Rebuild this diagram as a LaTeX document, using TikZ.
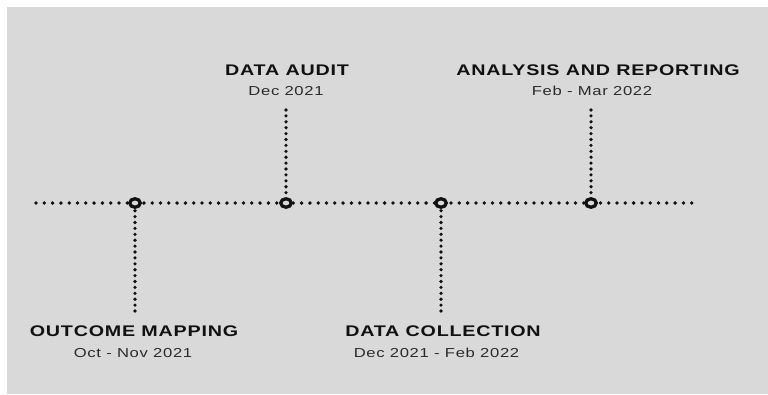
\documentclass[tikz,border=0pt]{standalone}
\usepackage{fontspec}
\usetikzlibrary{shapes.geometric}
\newfontfamily\tlfont[FakeStretch=1.28,LetterSpace=5]{Liberation Sans}
\definecolor{panel}{HTML}{D9D9D9}
\definecolor{ink}{HTML}{111111}
\definecolor{datecol}{HTML}{2B2B2B}
\tikzset{
  hdots/.style={draw=ink, line width=3.8pt, line cap=round, dash pattern=on 0pt off 8.3pt},
  vdots/.style={draw=ink, line width=3.6pt, line cap=round, dash pattern=on 0pt off 5.9pt},
  ring/.style={ellipse, draw=ink, fill=panel, line width=3.3pt, minimum width=10.5pt, minimum height=8.5pt, inner sep=0pt},
  phase/.style={anchor=base, inner sep=0pt, text=ink, font=\tlfont\bfseries\fontsize{15.4}{18}\selectfont},
  when/.style={anchor=base, inner sep=0pt, text=datecol, font=\tlfont\fontsize{13}{16}\selectfont}
}
\begin{document}
\begin{tikzpicture}[x=1pt, y=-1pt]
     \useasboundingbox (0,0) rectangle (768,394);
     \fill[white] (0,0) rectangle (768,394);
     \fill[panel] (7,7) rectangle (768,394);
     % time axis
     \coordinate (start) at (36,203); \coordinate (stop) at (698,203);
     \draw[hdots] (start) -- (stop);
     \node[ring] (m1) at (135,203) {}; \node[ring] (m2) at (286,203) {};
     \node[ring] (m3) at (441,203) {}; \node[ring] (m4) at (591,203) {};
     % stems
     \coordinate (s1) at (135,311); \coordinate (s2) at (286,110);
     \coordinate (s3) at (441,311); \coordinate (s4) at (591,110);
     \draw[vdots] (s1) -- (m1); \draw[vdots] (s2) -- (m2);
     \draw[vdots] (s3) -- (m3); \draw[vdots] (s4) -- (m4);
     % labels
     \node[phase] (t1) at (134,336.5) {OUTCOME MAPPING}; \node[when] (d1) at (133,357.5) {Oct - Nov 2021};
     \node[phase] (t2) at (287,75.5) {DATA AUDIT}; \node[when] (d2) at (286,95.7) {Dec 2021};
     \node[phase] (t3) at (443,336.5) {DATA COLLECTION}; \node[when] (d3) at (436.5,357.5) {Dec 2021 - Feb 2022};
     \node[phase] (t4) at (598,75.5) {ANALYSIS AND REPORTING}; \node[when] (d4) at (592,95.7) {Feb - Mar 2022};
    \end{tikzpicture}
\end{document}
